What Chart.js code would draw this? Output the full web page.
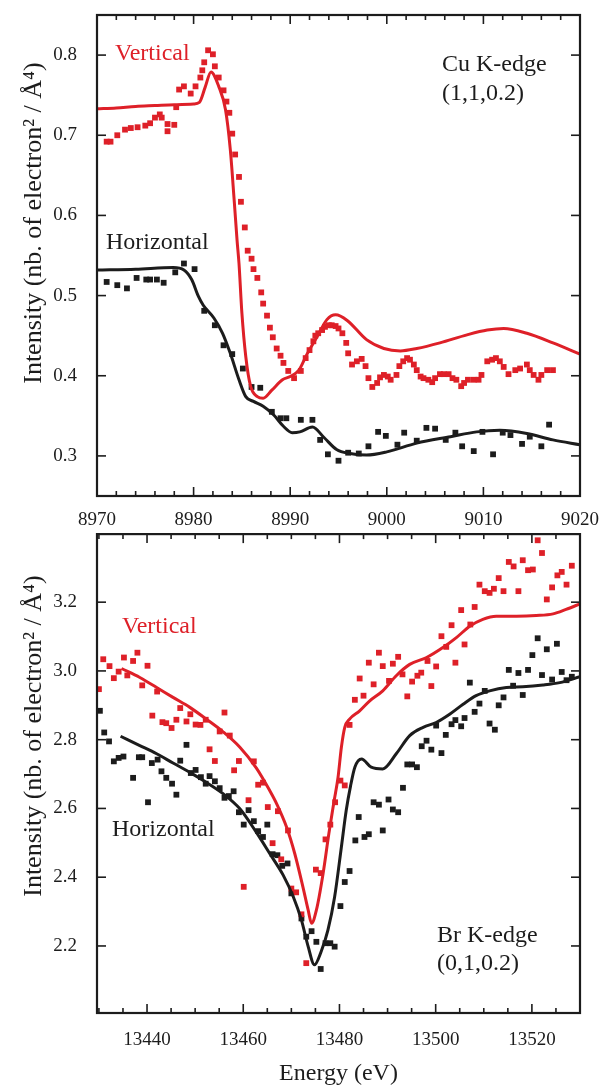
<!DOCTYPE html>
<html>
<head>
<meta charset="utf-8">
<script src="https://cdn.jsdelivr.net/npm/chart.js@4.4.1/dist/chart.umd.min.js"></script>
<style>
  html, body { margin: 0; padding: 0; background: #fff; }
  #wrap { position: relative; width: 600px; height: 1088px; }
  canvas { position: absolute; left: 0; }
</style>
</head>
<body>
<div id="wrap">
  <canvas id="cu" width="600" height="530" style="top:0px"></canvas>
  <canvas id="br" width="600" height="558" style="top:530px"></canvas>
</div>
<script>
// ---- Cu K-edge (1,1,0.2) : measured points ----
const cuVertE = [8971.0, 8971.4, 8972.1, 8972.9, 8973.5, 8974.2, 8975.0, 8975.5, 8976.0, 8976.5, 8976.7, 8977.3, 8977.3, 8978.0, 8978.2, 8978.5, 8979.0, 8979.7, 8980.2, 8980.7, 8980.9, 8981.1, 8981.5, 8982.0, 8982.2, 8982.6, 8983.1, 8983.4, 8983.7, 8984.0, 8984.3, 8984.7, 8984.9, 8985.3, 8985.6, 8986.0, 8986.2, 8986.6, 8987.0, 8987.2, 8987.6, 8987.9, 8988.2, 8988.6, 8989.0, 8989.3, 8989.8, 8990.4, 8991.1, 8991.6, 8992.0, 8992.4, 8992.6, 8992.9, 8993.3, 8993.6, 8994.0, 8994.3, 8994.7, 8995.0, 8995.4, 8995.8, 8996.0, 8996.4, 8996.9, 8997.4, 8997.8, 8998.1, 8998.5, 8999.0, 8999.3, 8999.7, 9000.1, 9000.4, 9001.0, 9001.3, 9001.7, 9002.1, 9002.4, 9002.8, 9003.1, 9003.5, 9003.8, 9004.3, 9004.7, 9005.0, 9005.5, 9005.9, 9006.4, 9006.8, 9007.2, 9007.7, 9008.0, 9008.4, 9009.0, 9009.5, 9009.8, 9010.4, 9010.9, 9011.3, 9011.7, 9012.1, 9012.6, 9013.3, 9013.8, 9014.5, 9014.8, 9015.2, 9015.7, 9016.0, 9016.6, 9017.2];
const cuVertI = [0.692, 0.692, 0.700, 0.707, 0.709, 0.710, 0.712, 0.715, 0.722, 0.726, 0.722, 0.714, 0.705, 0.713, 0.735, 0.757, 0.761, 0.752, 0.761, 0.772, 0.781, 0.791, 0.806, 0.801, 0.786, 0.772, 0.756, 0.742, 0.728, 0.702, 0.676, 0.648, 0.617, 0.585, 0.556, 0.546, 0.533, 0.522, 0.504, 0.490, 0.475, 0.460, 0.448, 0.434, 0.425, 0.416, 0.406, 0.397, 0.406, 0.422, 0.432, 0.443, 0.450, 0.453, 0.457, 0.461, 0.463, 0.463, 0.462, 0.459, 0.453, 0.441, 0.428, 0.414, 0.418, 0.421, 0.412, 0.397, 0.386, 0.391, 0.398, 0.401, 0.399, 0.395, 0.401, 0.412, 0.418, 0.422, 0.420, 0.414, 0.407, 0.399, 0.397, 0.395, 0.392, 0.397, 0.402, 0.402, 0.402, 0.397, 0.395, 0.387, 0.391, 0.395, 0.395, 0.395, 0.401, 0.418, 0.420, 0.422, 0.418, 0.411, 0.402, 0.407, 0.409, 0.414, 0.407, 0.401, 0.395, 0.401, 0.407, 0.407];

const cuHorE = [8971.0, 8972.1, 8973.1, 8974.1, 8975.1, 8975.5, 8976.2, 8976.9, 8978.1, 8979.0, 8980.1, 8981.1, 8982.2, 8983.1, 8984.0, 8985.1, 8986.0, 8986.9, 8988.1, 8989.0, 8989.6, 8991.1, 8992.3, 8993.1, 8993.9, 8995.0, 8996.0, 8997.1, 8998.1, 8999.1, 8999.9, 9001.1, 9001.8, 9003.1, 9004.1, 9005.0, 9006.1, 9007.1, 9007.8, 9009.0, 9009.9, 9011.0, 9012.0, 9012.8, 9014.0, 9014.8, 9016.0, 9016.8];
const cuHorI = [0.517, 0.513, 0.509, 0.522, 0.520, 0.520, 0.520, 0.516, 0.529, 0.540, 0.533, 0.481, 0.463, 0.438, 0.427, 0.409, 0.386, 0.385, 0.355, 0.347, 0.347, 0.345, 0.345, 0.320, 0.302, 0.294, 0.304, 0.303, 0.312, 0.330, 0.325, 0.314, 0.329, 0.319, 0.335, 0.334, 0.320, 0.329, 0.312, 0.306, 0.330, 0.302, 0.329, 0.326, 0.315, 0.324, 0.312, 0.339];

// ---- Cu K-edge : calculated curves ----
const cuVertFitE = [8970, 8972, 8974, 8976, 8978, 8980, 8980.6, 8981.2, 8981.8, 8982.6, 8983.3, 8983.8, 8984.2, 8984.5, 8984.7, 8985.0, 8985.4, 8985.9, 8986.6, 8987.2, 8988.1, 8989.2, 8990.0, 8990.9, 8991.7, 8992.8, 8993.8, 8994.7, 8995.9, 8997.9, 8999.7, 9001.4, 9003.1, 9005.5, 9008.3, 9010.4, 9012.1, 9014.5, 9017.2, 9020];
const cuVertFitI = [0.733, 0.734, 0.736, 0.737, 0.738, 0.739, 0.741, 0.760, 0.779, 0.761, 0.732, 0.682, 0.619, 0.569, 0.540, 0.478, 0.424, 0.387, 0.374, 0.372, 0.382, 0.395, 0.399, 0.407, 0.426, 0.449, 0.470, 0.476, 0.469, 0.445, 0.434, 0.431, 0.434, 0.441, 0.451, 0.457, 0.459, 0.453, 0.441, 0.427];

const cuHorFitE = [8970, 8974, 8977.9, 8979.0, 8979.8, 8980.5, 8981.0, 8982.1, 8983.0, 8983.8, 8984.7, 8985.4, 8986.2, 8987.2, 8988.3, 8989.3, 8990.2, 8991.0, 8992.3, 8993.5, 8994.8, 8996.2, 8997.9, 9000.0, 9003.1, 9006.6, 9009.3, 9011.7, 9014.5, 9017.2, 9020];
const cuHorFitI = [0.532, 0.533, 0.535, 0.532, 0.520, 0.499, 0.488, 0.472, 0.453, 0.428, 0.395, 0.374, 0.368, 0.362, 0.351, 0.337, 0.329, 0.330, 0.336, 0.323, 0.308, 0.303, 0.301, 0.305, 0.316, 0.324, 0.330, 0.332, 0.328, 0.320, 0.314];

// ---- Br K-edge (0,1,0.2) : measured points ----
const brVertE = [13430.0, 13430.9, 13432.2, 13433.1, 13434.1, 13435.2, 13435.9, 13437.1, 13438.0, 13439.0, 13440.1, 13441.1, 13442.1, 13443.2, 13444.0, 13445.1, 13446.1, 13446.9, 13448.2, 13449.0, 13450.1, 13451.1, 13452.2, 13453.0, 13454.1, 13455.1, 13456.1, 13457.2, 13458.1, 13459.1, 13460.1, 13461.1, 13462.2, 13463.1, 13464.1, 13465.1, 13466.1, 13467.2, 13467.9, 13469.3, 13470.0, 13471.0, 13472.1, 13473.1, 13475.1, 13476.1, 13477.1, 13478.1, 13479.1, 13480.2, 13481.1, 13482.1, 13483.2, 13484.2, 13485.0, 13486.1, 13487.1, 13488.2, 13489.0, 13490.3, 13491.1, 13492.2, 13493.1, 13494.1, 13495.1, 13496.2, 13497.0, 13498.3, 13499.1, 13500.1, 13501.2, 13502.2, 13503.3, 13504.1, 13505.3, 13506.0, 13507.2, 13508.1, 13509.1, 13510.2, 13511.2, 13512.1, 13513.1, 13514.1, 13515.2, 13516.2, 13517.2, 13518.1, 13519.2, 13520.2, 13521.2, 13522.1, 13523.1, 13524.2, 13525.3, 13526.2, 13527.2, 13528.3];
const brVertI = [2.947, 3.034, 3.014, 2.979, 2.998, 3.039, 2.987, 3.029, 3.053, 2.958, 3.015, 2.870, 2.940, 2.851, 2.848, 2.834, 2.858, 2.892, 2.853, 2.874, 2.844, 2.843, 2.858, 2.772, 2.738, 2.824, 2.879, 2.812, 2.711, 2.738, 2.372, 2.624, 2.737, 2.669, 2.675, 2.604, 2.499, 2.592, 2.452, 2.536, 2.367, 2.356, 2.292, 2.150, 2.422, 2.412, 2.510, 2.553, 2.618, 2.681, 2.667, 2.843, 2.916, 2.978, 2.928, 3.024, 2.961, 3.053, 3.014, 2.971, 3.021, 3.041, 2.990, 2.926, 2.969, 2.986, 2.995, 3.029, 2.956, 3.013, 3.101, 3.070, 3.133, 3.024, 3.177, 3.077, 3.135, 3.186, 3.251, 3.232, 3.227, 3.239, 3.270, 3.232, 3.317, 3.304, 3.232, 3.322, 3.293, 3.295, 3.380, 3.343, 3.208, 3.243, 3.278, 3.288, 3.251, 3.306];

const brHorE = [13430.2, 13431.1, 13432.1, 13433.1, 13434.1, 13435.1, 13437.1, 13438.3, 13439.0, 13440.2, 13441.0, 13442.2, 13443.0, 13444.0, 13445.2, 13446.1, 13446.9, 13448.2, 13449.1, 13450.1, 13451.2, 13452.2, 13453.0, 13454.1, 13455.1, 13456.1, 13457.0, 13458.0, 13459.1, 13460.1, 13461.1, 13462.2, 13463.1, 13464.1, 13465.0, 13466.1, 13467.1, 13468.1, 13469.2, 13470.0, 13472.1, 13473.1, 13474.2, 13475.2, 13476.1, 13477.1, 13478.1, 13479.0, 13480.2, 13481.1, 13482.1, 13483.3, 13484.0, 13485.2, 13486.1, 13487.1, 13488.2, 13489.0, 13490.2, 13491.1, 13492.2, 13493.2, 13494.1, 13495.1, 13496.1, 13497.1, 13498.1, 13499.1, 13500.1, 13501.2, 13502.1, 13503.3, 13504.1, 13505.3, 13506.0, 13507.1, 13508.1, 13509.1, 13510.2, 13511.2, 13512.3, 13513.1, 13514.1, 13515.2, 13516.1, 13517.2, 13518.1, 13519.2, 13520.1, 13521.2, 13522.1, 13523.1, 13524.2, 13525.2, 13526.2, 13527.2, 13528.3];
const brHorI = [2.884, 2.821, 2.795, 2.737, 2.747, 2.751, 2.689, 2.749, 2.749, 2.618, 2.732, 2.742, 2.708, 2.689, 2.672, 2.640, 2.739, 2.785, 2.703, 2.712, 2.691, 2.672, 2.694, 2.679, 2.659, 2.631, 2.636, 2.650, 2.589, 2.553, 2.595, 2.563, 2.534, 2.517, 2.553, 2.467, 2.464, 2.433, 2.440, 2.353, 2.280, 2.227, 2.243, 2.212, 2.133, 2.208, 2.208, 2.198, 2.316, 2.386, 2.418, 2.507, 2.575, 2.517, 2.525, 2.618, 2.611, 2.536, 2.626, 2.597, 2.589, 2.660, 2.728, 2.728, 2.720, 2.781, 2.797, 2.771, 2.841, 2.761, 2.814, 2.845, 2.857, 2.839, 2.863, 2.966, 2.881, 2.905, 2.942, 2.847, 2.829, 2.900, 2.923, 3.003, 2.957, 2.994, 2.930, 3.003, 3.046, 3.095, 2.988, 3.063, 2.975, 3.079, 2.997, 2.973, 2.983];

// ---- Br K-edge : calculated curves ----
const brVertFitE = [13434.7, 13438.5, 13442.0, 13445.4, 13448.9, 13452.3, 13455.8, 13459.3, 13462.7, 13465.5, 13467.0, 13469.0, 13470.7, 13472.4, 13473.5, 13474.2, 13475.2, 13476.6, 13477.8, 13478.9, 13479.7, 13480.4, 13481.1, 13482.1, 13484.2, 13486.3, 13489.0, 13491.8, 13494.6, 13498.1, 13501.5, 13504.3, 13507.1, 13509.8, 13512.6, 13516.8, 13520.9, 13524.4, 13527.1, 13530];
const brVertFitI = [3.007, 2.981, 2.952, 2.923, 2.894, 2.860, 2.823, 2.778, 2.718, 2.652, 2.612, 2.546, 2.469, 2.372, 2.304, 2.266, 2.304, 2.411, 2.527, 2.623, 2.690, 2.778, 2.836, 2.860, 2.884, 2.913, 2.942, 2.986, 3.019, 3.039, 3.068, 3.097, 3.130, 3.150, 3.159, 3.159, 3.161, 3.166, 3.179, 3.195];

const brHorFitE = [13434.5, 13438.5, 13442.0, 13445.4, 13448.9, 13452.3, 13455.8, 13459.3, 13462.7, 13465.5, 13468.3, 13470.4, 13472.1, 13473.5, 13474.8, 13476.2, 13477.6, 13479.0, 13480.4, 13481.4, 13482.3, 13483.2, 13484.6, 13486.6, 13489.0, 13491.8, 13494.6, 13497.4, 13500.1, 13502.9, 13505.7, 13508.4, 13511.2, 13514.7, 13518.1, 13522.3, 13525.8, 13530];
const brHorFitI = [2.810, 2.783, 2.759, 2.732, 2.705, 2.676, 2.643, 2.599, 2.531, 2.469, 2.406, 2.343, 2.275, 2.198, 2.145, 2.184, 2.246, 2.343, 2.488, 2.594, 2.665, 2.720, 2.744, 2.720, 2.715, 2.759, 2.812, 2.836, 2.850, 2.874, 2.903, 2.928, 2.942, 2.952, 2.954, 2.959, 2.966, 2.983];

// ---- axis ticks ----
const cuTicksX = [8970, 8980, 8990, 9000, 9010, 9020];
const cuTicksY = [0.3, 0.4, 0.5, 0.6, 0.7, 0.8];
const brTicksX = [13440, 13460, 13480, 13500, 13520];
const brTicksY = [2.2, 2.4, 2.6, 2.8, 3.0, 3.2];

const RED = 'rgb(222, 32, 40)';
const INK = '#1c1c1c';
const SERIF = "'Liberation Serif', 'Times New Roman', serif";
const yTitle = 'Intensity (nb. of electron\u00B2 / \u00C5\u2074)';

const pts = (xs, ys) => xs.map((x, i) => ({ x: x, y: ys[i] }));

function curve(xs, ys, color) {
  return {
    data: pts(xs, ys), showLine: true, borderColor: color, borderWidth: 3,
    pointRadius: 0, cubicInterpolationMode: 'monotone', fill: false
  };
}
function dots(xs, ys, color) {
  return {
    data: pts(xs, ys), showLine: false, pointStyle: 'rect', pointRadius: 4.1,
    pointBorderWidth: 0, backgroundColor: color, borderColor: color
  };
}

// labels may not push the plot box around: the box is fixed like the original
const noPad = s => { s.paddingLeft = 0; s.paddingRight = 0; s.paddingTop = 0; s.paddingBottom = 0; };

// frame with inward ticks on all four sides, plus the panel texts
const framePlugin = {
  id: 'frame',
  afterDraw(chart, args, o) {
    const { ctx, chartArea: a } = chart;
    const sx = chart.scales.x, sy = chart.scales.y;
    ctx.save();
    ctx.strokeStyle = INK;
    ctx.lineWidth = 1.6;
    const seg = (x1, y1, x2, y2) => { ctx.beginPath(); ctx.moveTo(x1, y1); ctx.lineTo(x2, y2); ctx.stroke(); };
    for (let v = o.minorStart; v <= sx.max + 1e-6; v += o.minorStep) {
      const p = sx.getPixelForValue(v);
      const len = o.xMajor.includes(Math.round(v)) ? 9 : 5;
      seg(p, a.bottom, p, a.bottom - len);
      seg(p, a.top, p, a.top + len);
    }
    o.yMajor.forEach(v => {
      const p = sy.getPixelForValue(v);
      seg(a.left, p, a.left + 9, p);
      seg(a.right, p, a.right - 9, p);
    });
    ctx.lineWidth = 2.2;
    ctx.strokeRect(a.left, a.top, a.right - a.left, a.bottom - a.top);

    ctx.font = '24px ' + SERIF;
    ctx.textBaseline = 'alphabetic';
    ctx.textAlign = 'left';
    o.notes.forEach(n => { ctx.fillStyle = n.color; ctx.fillText(n.text, n.x, n.y); });

    ctx.translate(41, o.titleY);
    ctx.rotate(-Math.PI / 2);
    ctx.font = '26px ' + SERIF;
    ctx.textAlign = 'center';
    ctx.fillStyle = INK;
    ctx.fillText(yTitle, 0, 0);
    ctx.restore();
  }
};

function panel(id, p) {
  return new Chart(document.getElementById(id), {
    type: 'scatter',
    data: {
      datasets: [
        curve(p.vFit[0], p.vFit[1], RED),
        curve(p.hFit[0], p.hFit[1], INK),
        dots(p.v[0], p.v[1], RED),
        dots(p.h[0], p.h[1], INK)
      ]
    },
    options: {
      responsive: false,
      animation: false,
      devicePixelRatio: 1,
      layout: { padding: { top: p.padTop, right: 20, left: 0, bottom: 0 } },
      plugins: {
        legend: { display: false },
        tooltip: { enabled: false },
        frame: p.frame
      },
      scales: {
        x: {
          type: 'linear', min: p.xMin, max: p.xMax,
          grid: { display: false }, border: { display: false },
          afterBuildTicks: s => { s.ticks = p.xTicks.map(v => ({ value: v })); },
          afterFit: s => { s.height = p.xHeight; noPad(s); },
          ticks: {
            font: { family: SERIF, size: 19 }, color: INK, padding: p.xPad,
            maxRotation: 0, autoSkip: false, callback: v => String(v)
          },
          title: {
            display: p.xTitle, text: 'Energy (eV)', color: INK,
            font: { family: SERIF, size: 24 }, padding: { top: 0, bottom: 0 }
          }
        },
        y: {
          type: 'linear', min: p.yMin, max: p.yMax,
          grid: { display: false }, border: { display: false },
          afterBuildTicks: s => { s.ticks = p.yTicks.map(v => ({ value: v })); },
          afterFit: s => { s.width = 97; noPad(s); },
          ticks: {
            font: { family: SERIF, size: 19 }, color: INK, padding: 12,
            callback: v => Number(v).toFixed(1)
          }
        }
      }
    },
    plugins: [framePlugin]
  });
}

panel('cu', {
  v: [cuVertE, cuVertI], h: [cuHorE, cuHorI],
  vFit: [cuVertFitE, cuVertFitI], hFit: [cuHorFitE, cuHorFitI],
  xMin: 8970, xMax: 9020, yMin: 0.25, yMax: 0.85,
  xTicks: cuTicksX, yTicks: cuTicksY,
  padTop: 15, xHeight: 34, xPad: 5, xTitle: false,
  frame: {
    minorStart: 8970, minorStep: 2, xMajor: cuTicksX, yMajor: cuTicksY, titleY: 223,
    notes: [
      { text: 'Vertical', x: 115, y: 60, color: RED },
      { text: 'Horizontal', x: 106, y: 249, color: INK },
      { text: 'Cu K-edge', x: 442, y: 71, color: INK },
      { text: '(1,1,0.2)', x: 442, y: 100, color: INK }
    ]
  }
});

panel('br', {
  v: [brVertE, brVertI], h: [brHorE, brHorI],
  vFit: [brVertFitE, brVertFitI], hFit: [brHorFitE, brHorFitI],
  xMin: 13429.6, xMax: 13530, yMin: 2.005, yMax: 3.398,
  xTicks: brTicksX, yTicks: brTicksY,
  padTop: 3, xHeight: 75, xPad: 8, xTitle: true,
  frame: {
    minorStart: 13430, minorStep: 5, xMajor: brTicksX, yMajor: brTicksY, titleY: 206,
    notes: [
      { text: 'Vertical', x: 122, y: 103, color: RED },
      { text: 'Horizontal', x: 112, y: 306, color: INK },
      { text: 'Br K-edge', x: 437, y: 412, color: INK },
      { text: '(0,1,0.2)', x: 437, y: 440, color: INK }
    ]
  }
});
</script>
</body>
</html>
